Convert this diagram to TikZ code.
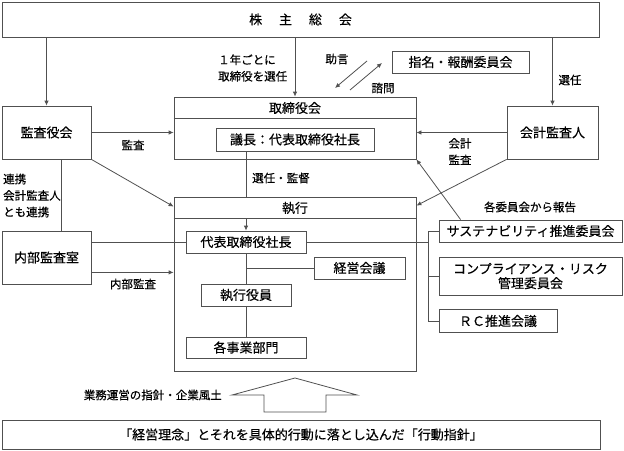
\documentclass[tikz,border=0pt]{standalone}
\usepackage{fontspec}
\setmainfont{Noto Sans CJK JP}[FakeBold=0.4]
\usetikzlibrary{arrows.meta,calc}
\definecolor{ln}{HTML}{505050}
\begin{document}
\begin{tikzpicture}[x=1pt,y=-1pt,
  box/.style={draw=ln, line width=0.8pt, rectangle, inner sep=0pt, align=center, font=\fontsize{13}{14.5}\selectfont},
  btxt/.style={inner sep=0pt, font=\fontsize{13}{14.5}\selectfont},
  lbl/.style={inner sep=0pt, align=left, font=\fontsize{11.5}{16.5}\selectfont},
  conn/.style={draw=ln, line width=0.8pt},
  arr/.style={conn, -{Latex[length=5pt,width=4.5pt]}}]
\useasboundingbox (0,0) rectangle (624,450);

% boxes
\node[box, minimum width=597pt, minimum height=35pt] (gm) at (300.5,19.5) {株\hspace{1.3em}主\hspace{1.3em}総\hspace{1.3em}会};
\node[box, minimum width=89pt, minimum height=53pt] (kansa) at (46.5,132.5) {監査役会};
\node[box, minimum width=242pt, minimum height=62pt] (board) at (295,128) {};
\node[btxt] (boardt) at (295,108) {取締役会};
\draw[conn] ($(board.north west)+(0,22)$) -- ($(board.north east)+(0,22)$);
\node[box, minimum width=158pt, minimum height=23pt] (chair) at (295,139.5) {議長：代表取締役社長};
\node[box, minimum width=137pt, minimum height=22pt] (nom) at (460.5,62) {指名・報酬委員会};
\node[box, minimum width=91pt, minimum height=53pt] (acct) at (552.5,132.5) {会計監査人};
\node[box, minimum width=242pt, minimum height=174pt] (exec) at (295,284) {};
\node[btxt] (exect) at (295,208) {執行};
\draw[conn] ($(exec.north west)+(0,22)$) coordinate (exhl) -- ($(exec.north east)+(0,22)$);
\node[box, minimum width=120pt, minimum height=22pt] (pres) at (246,242) {代表取締役社長};
\node[box, minimum width=89pt, minimum height=53pt] (naibu) at (46.5,257.5) {内部監査室};
\node[box, minimum width=90pt, minimum height=22pt] (exo) at (246,295) {執行役員};
\node[box, minimum width=91pt, minimum height=22pt] (mgmt) at (359.5,268) {経営会議};
\node[box, minimum width=120pt, minimum height=21pt] (biz) at (246,347.5) {各事業部門};
\node[box, minimum width=183pt, minimum height=22pt] (sus) at (530.5,231) {サステナビリティ推進委員会};
\node[box, minimum width=183pt, minimum height=38pt] (comp) at (530.5,276) {コンプライアンス・リスク\\管理委員会};
\node[box, minimum width=118pt, minimum height=23pt] (rc) at (498,321) {ＲＣ推進会議};
\node[box, minimum width=598pt, minimum height=29pt] (base) at (301,434.5) {「経営理念」とそれを具体的行動に落とし込んだ「行動指針」};

% labels
\node[lbl, anchor=west] (l1) at (218,68) {１年ごとに\\取締役を選任};
\node[lbl] (ljogen) at (337,59) {助言};
\node[lbl] (lshimon) at (383,88) {諮問};
\node[lbl] (lsennin) at (570,80) {選任};
\node[lbl] (lkansa) at (133,145) {監査};
\node[lbl, anchor=west] (lsk) at (252,178) {選任・監督};
\node[lbl, align=center] (lkaikei) at (460,151.5) {会計\\監査};
\node[lbl, anchor=west] (lrenkei) at (3,195.5) {連携\\会計監査人\\とも連携};
\node[lbl] (lnaibu) at (133,284) {内部監査};
\node[lbl] (lrep) at (530,207) {各委員会から報告};
\node[lbl, anchor=east] (lgyomu) at (222,395) {業務運営の指針・企業風土};

% connectors from shareholders meeting
\draw[arr] (gm.south -| kansa.north) -- (kansa.north);
\draw[arr] (gm.south -| board.north) -- (board.north);
\draw[arr] (gm.south -| acct.north) -- (acct.north);

% advice / inquiry arrows
\coordinate (a1) at (367,61); \coordinate (a2) at (335,88);
\coordinate (b1) at (350,90); \coordinate (b2) at (382,63);
\draw[arr] (a1) -- (a2);
\draw[arr] (b1) -- (b2);

% audits
\draw[arr] (kansa.east) -- (kansa.east -| board.west);
\draw[arr] (kansa.south east) -- ($(exec.north west)+(0,10)$);
\draw[arr] (acct.west) -- (acct.west -| board.east);
\draw[arr] (acct.south west) -- ($(exec.north east)+(0,9)$);
\draw[arr] ($(sus.north west)+(22,0)$) -- (board.south east);

% board -> execution
\draw[conn] (chair.south -| pres.north) -- (exec.north -| pres.north);
\draw[arr] (exhl -| pres.north) -- (pres.north);

% kansa - naibu link
\coordinate (lk) at (61,0);
\draw[conn] (kansa.south -| lk) -- (naibu.north -| lk);

% internal audit
\draw[conn] (naibu.east |- pres.west) -- (pres.west);
\draw[arr] ($(naibu.south east)+(0,-12)$) coordinate (ia) -- (ia -| exec.west);

% execution chain
\draw[conn] (pres.south) -- (exo.north);
\draw[conn] (exo.south) -- (biz.north);
\draw[conn] (pres.south |- mgmt.west) -- (mgmt.west);

% committees bracket
\coordinate (bx) at (428,0);
\draw[conn] (pres.east) -- (pres.east -| bx);
\draw[conn] (sus.west) -- (sus.west -| bx) -- (rc.west -| bx) -- (rc.west);
\draw[conn] (comp.west) -- (comp.west -| bx);

% big up arrow
\draw[conn] (295,378) -- (357,395) -- (326,395) -- (326,412) -- (264,412) -- (264,395) -- (232,395) -- cycle;
\end{tikzpicture}
\end{document}
